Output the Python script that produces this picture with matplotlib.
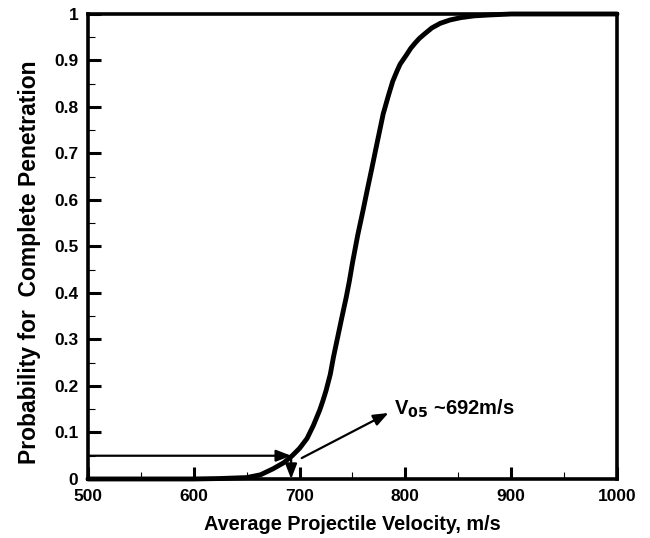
import matplotlib
matplotlib.use("Agg")
import matplotlib.pyplot as plt
from matplotlib.ticker import MultipleLocator

plt.rcParams['font.family'] = ['Liberation Sans', 'DejaVu Sans']
plt.rcParams['font.weight'] = 'bold'

# values
velocity = [500, 600, 625, 650, 663, 675, 685, 693, 700, 707, 713, 719, 722, 725, 729,
            732, 736, 740, 744, 747, 750, 755, 760, 764, 768, 773, 779, 784, 788,
            792, 795, 801, 805, 809, 813, 817, 825, 833, 842, 852, 865, 880, 900, 1000]
probability = [0, 0, 0.001, 0.003, 0.009, 0.022, 0.035, 0.05, 0.066, 0.087, 0.115,
               0.148, 0.168, 0.19, 0.225, 0.262, 0.305, 0.348, 0.39, 0.425, 0.465, 0.525,
               0.578, 0.622, 0.665, 0.72, 0.785, 0.825, 0.855, 0.877, 0.892, 0.912,
               0.926, 0.937, 0.947, 0.955, 0.97, 0.98, 0.987, 0.992, 0.996, 0.998,
               1.0, 1.0]
v05 = 692
p05 = 0.05
yticks = [0, 0.1, 0.2, 0.3, 0.4, 0.5, 0.6, 0.7, 0.8, 0.9, 1]
ytick_labels = ['0', '0.1', '0.2', '0.3', '0.4', '0.5', '0.6', '0.7', '0.8', '0.9', '1']

fig = plt.figure(figsize=(6.5, 5.38), dpi=100)
ax = fig.add_axes([0.1354, 0.1097, 0.8138, 0.8643])

ax.plot(velocity, probability, color='black', lw=3.5, solid_capstyle='round',
        solid_joinstyle='round', clip_on=False, zorder=3)

# arrows marking V05
arrow_kw = dict(arrowstyle='-|>,head_length=0.9,head_width=0.35', color='black', lw=1.6,
                shrinkA=0, shrinkB=0)
ax.annotate('', xy=(v05, p05), xytext=(500, p05), arrowprops=arrow_kw)
ax.annotate('', xy=(v05, 0), xytext=(v05, p05), arrowprops=arrow_kw)
ax.annotate('', xy=(784, 0.142), xytext=(702, 0.045), arrowprops=arrow_kw)
ax.text(789, 0.15, r'V$_{\mathbf{05}}$ ~692m/s', fontsize=14.5, fontweight='bold',
        va='center', ha='left')

ax.set_xlim(500, 1000)
ax.set_ylim(0, 1)
ax.xaxis.set_major_locator(MultipleLocator(100))
ax.xaxis.set_minor_locator(MultipleLocator(50))
ax.set_yticks(yticks)
ax.set_yticklabels(ytick_labels)
ax.yaxis.set_minor_locator(MultipleLocator(0.05))
ax.tick_params(which='major', direction='in', length=9, width=2.2, labelsize=12.5, pad=7,
               top=False, right=False)
ax.tick_params(which='minor', direction='in', length=5, width=0.8, top=False, right=False)
for lab in ax.get_xticklabels() + ax.get_yticklabels():
    lab.set_fontweight('bold')
for s in ax.spines.values():
    s.set_linewidth(2.6)

ax.set_xlabel('Average Projectile Velocity, m/s', fontsize=14.3, fontweight='bold', labelpad=8)
ax.set_ylabel('Probability for  Complete Penetration', fontsize=16.5, fontweight='bold')
ax.yaxis.set_label_coords(-0.088, 0.467)

fig.savefig('out.png', dpi=100)
